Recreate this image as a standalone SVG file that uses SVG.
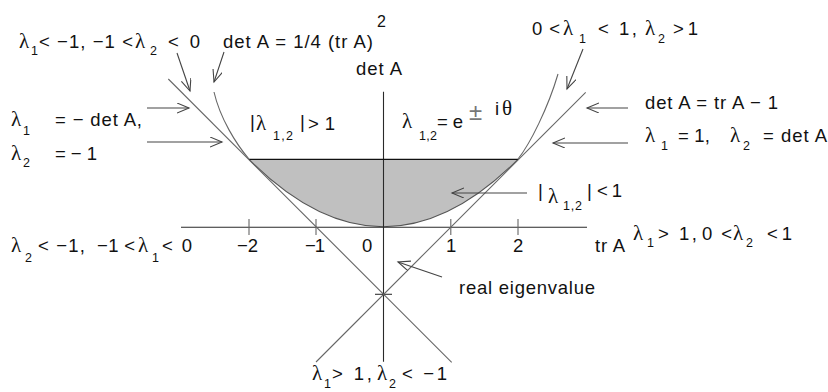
<svg xmlns="http://www.w3.org/2000/svg" width="828" height="392" viewBox="0 0 828 392">
<defs>
<style>
text{font-family:"Liberation Sans",Arial,sans-serif;font-size:18.5px;fill:#111}
.g{font-family:"Liberation Serif","Times New Roman",serif;font-size:21px}
.s{font-size:12.5px}
.axis{stroke:#2a2a2a;stroke-width:1.1;fill:none}
.ln{stroke:#666;stroke-width:1.1;fill:none}
.arr{stroke:#444;stroke-width:1.1;fill:none;marker-end:url(#ah)}
</style>
<marker id="ah" markerUnits="userSpaceOnUse" markerWidth="14" markerHeight="12" refX="12" refY="5" orient="auto">
<path d="M0,0 L12,5 L0,10" fill="none" stroke="#444" stroke-width="1.1"/>
</marker>
</defs>
<rect width="828" height="392" fill="#fff"/>

<g id="region">
<path d="M249,159.3 L518,159.3 Q383.5,294.3 249,159.3 Z" fill="#c0c0c0" stroke="none"/>
<path d="M249,159.3 Q383.5,294.3 518,159.3" fill="none" stroke="#555" stroke-width="1.1"/>
</g>

<g id="axes">
<line class="axis" x1="383.5" y1="91.7" x2="383.5" y2="361.7"/>
<line class="axis" x1="181" y1="227.3" x2="587" y2="227.3"/>
<line x1="249" y1="159.3" x2="518" y2="159.3" stroke="#111" stroke-width="1.2"/>
<line class="ln" x1="249" y1="219" x2="249" y2="235"/>
<line class="ln" x1="316" y1="219" x2="316" y2="235"/>
<line class="ln" x1="450.8" y1="219" x2="450.8" y2="235"/>
<line class="ln" x1="518" y1="219" x2="518" y2="235"/>
<line x1="375" y1="294.3" x2="392" y2="294.3" stroke="#333" stroke-width="1.1"/>
<circle cx="383.5" cy="294.3" r="1.3" fill="#222"/>
</g>

<g id="curves">
<line class="ln" x1="168.3" y1="79" x2="451.7" y2="362.4"/>
<line class="ln" x1="585.7" y1="92.3" x2="316" y2="362"/>
<path class="ln" d="M249,159 C236,144 220,118 214,92"/>
<path class="ln" d="M518,159 C530,144 548,108 558,74"/>
</g>

<g id="connectors">
<line class="arr" x1="177" y1="53" x2="190" y2="91"/>
<line class="arr" x1="224" y1="52" x2="214" y2="82"/>
<line class="arr" x1="147" y1="108" x2="189" y2="108"/>
<line class="arr" x1="147" y1="142" x2="222" y2="142"/>
<line class="arr" x1="583" y1="49" x2="567" y2="89"/>
<line class="arr" x1="628" y1="108" x2="587" y2="108"/>
<line class="arr" x1="628" y1="143" x2="553" y2="143"/>
<line class="arr" x1="527" y1="193" x2="452" y2="193"/>
<line class="arr" x1="442" y1="277" x2="398" y2="262"/>
</g>

<g id="label-topleft">
<text class="g" x="19" y="48">λ</text>
<text class="s" x="31" y="55">1</text>
<text x="39" y="48" textLength="94" lengthAdjust="spacing">&lt; −1, −1 &lt;</text>
<text class="g" x="135" y="48">λ</text>
<text class="s" x="150" y="55">2</text>
<text x="168" y="48" textLength="32" lengthAdjust="spacing">&lt; 0</text>
</g>

<g id="label-parabola">
<text x="223" y="48" textLength="150" lengthAdjust="spacing">det A = 1/4 (tr A)</text>
<text x="377" y="27" style="font-size:16px">2</text>
</g>

<g id="label-detA">
<text x="356" y="75" textLength="46" lengthAdjust="spacing">det A</text>
</g>

<g id="label-left-mid">
<text class="g" x="11" y="126">λ</text>
<text class="s" x="23" y="135">1</text>
<text x="55" y="126" textLength="87" lengthAdjust="spacing">= − det A,</text>
<text class="g" x="11" y="160">λ</text>
<text class="s" x="23" y="167">2</text>
<text x="55" y="160" textLength="42" lengthAdjust="spacing">= − 1</text>
</g>

<g id="label-outside">
<text x="250" y="128">|</text>
<text class="g" x="256" y="130">λ</text>
<text class="s" x="273" y="140" textLength="20" lengthAdjust="spacing">1,2</text>
<text x="300" y="128">|</text>
<text x="308" y="130" textLength="27" lengthAdjust="spacing">&gt; 1</text>
</g>

<g id="label-complex">
<text class="g" x="402" y="128">λ</text>
<text class="s" x="419" y="140" textLength="18" lengthAdjust="spacing">1,2</text>
<text x="437" y="128" textLength="26" lengthAdjust="spacing">= e</text>
<text x="469" y="120" style="font-size:24px;fill:#777">±</text>
<text x="495" y="115">i</text>
<text class="g" x="502" y="115">θ</text>
</g>

<g id="label-topright">
<text x="532" y="35" textLength="28" lengthAdjust="spacing">0 &lt;</text>
<text class="g" x="563" y="35">λ</text>
<text class="s" x="579" y="43">1</text>
<text x="598" y="35" textLength="39" lengthAdjust="spacing">&lt; 1,</text>
<text class="g" x="645" y="35">λ</text>
<text class="s" x="658" y="43">2</text>
<text x="673" y="35" textLength="25" lengthAdjust="spacing">&gt; 1</text>
</g>

<g id="label-line2">
<text x="645" y="109" textLength="133" lengthAdjust="spacing">det A = tr A − 1</text>
</g>

<g id="label-unit">
<text class="g" x="645" y="142">λ</text>
<text class="s" x="661" y="150">1</text>
<text x="678" y="142" textLength="32" lengthAdjust="spacing">= 1,</text>
<text class="g" x="730" y="142">λ</text>
<text class="s" x="743" y="150">2</text>
<text x="763" y="142" textLength="64" lengthAdjust="spacing">= det A</text>
</g>

<g id="label-inside">
<text x="538" y="197">|</text>
<text class="g" x="548" y="203">λ</text>
<text class="s" x="563" y="210" textLength="19" lengthAdjust="spacing">1,2</text>
<text x="587" y="197">|</text>
<text x="597" y="197" textLength="25" lengthAdjust="spacing">&lt; 1</text>
</g>

<g id="label-trA">
<text x="595" y="252" textLength="30" lengthAdjust="spacing">tr A</text>
<text class="g" x="633" y="240">λ</text>
<text class="s" x="647" y="247">1</text>
<text x="658" y="240" textLength="39" lengthAdjust="spacing">&gt; 1,</text>
<text x="702" y="240" textLength="30" lengthAdjust="spacing">0 &lt;</text>
<text class="g" x="733" y="240">λ</text>
<text class="s" x="746" y="247">2</text>
<text x="767" y="240" textLength="25" lengthAdjust="spacing">&lt; 1</text>
</g>

<g id="ticks-labels">
<text x="237" y="252" textLength="21" lengthAdjust="spacing">−2</text>
<text x="305" y="252" textLength="20" lengthAdjust="spacing">−1</text>
<text x="362" y="252">0</text>
<text x="446" y="252">1</text>
<text x="513" y="252">2</text>
</g>

<g id="label-leftlow">
<text class="g" x="11" y="252">λ</text>
<text class="s" x="25" y="262">2</text>
<text x="38" y="252" textLength="47" lengthAdjust="spacing">&lt; −1,</text>
<text x="97" y="252" textLength="38" lengthAdjust="spacing">−1 &lt;</text>
<text class="g" x="138" y="252">λ</text>
<text class="s" x="152" y="262">1</text>
<text x="162" y="252" textLength="30" lengthAdjust="spacing">&lt; 0</text>
</g>

<g id="label-real">
<text x="459" y="294" textLength="136" lengthAdjust="spacing">real eigenvalue</text>
</g>

<g id="label-bottom">
<text class="g" x="312" y="380">λ</text>
<text class="s" x="324" y="388">1</text>
<text x="332" y="380" textLength="40" lengthAdjust="spacing">&gt; 1,</text>
<text class="g" x="377" y="380">λ</text>
<text class="s" x="389" y="388">2</text>
<text x="402" y="380" textLength="45" lengthAdjust="spacing">&lt; −1</text>
</g>
</svg>
